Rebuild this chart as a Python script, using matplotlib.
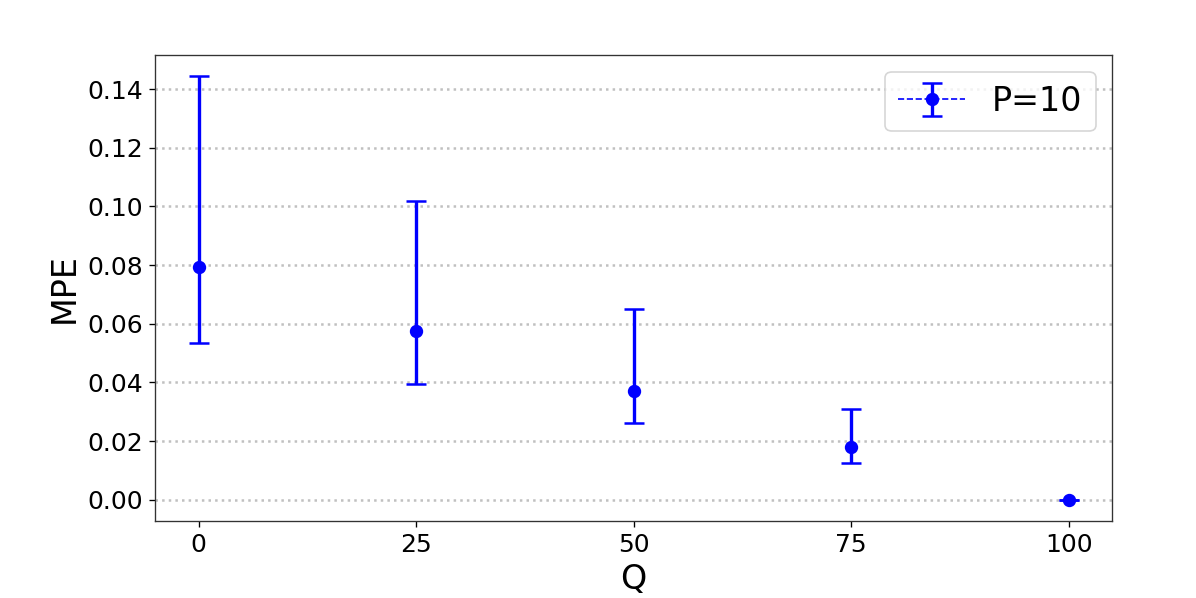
import numpy as np
import matplotlib
matplotlib.use("Agg")
import matplotlib.pyplot as plt

# values
q_values = [0, 25, 50, 75, 100]
mpe_mean = [0.0795, 0.0576, 0.0371, 0.0178, 0.0]
mpe_lower = [0.0535, 0.0395, 0.0261, 0.0124, 0.0]
mpe_upper = [0.1444, 0.1019, 0.0649, 0.0309, 0.0]
series_label = "P=10"


def main():
    fig = plt.figure(figsize=(1196 / 120, 598 / 120), dpi=120)
    ax = fig.add_subplot(111)
    fig.subplots_adjust(left=0.1296, right=0.930, bottom=0.129, top=0.908)

    mean = np.array(mpe_mean)
    err = np.vstack([mean - np.array(mpe_lower), np.array(mpe_upper) - mean])

    # each point drawn on its own so no dashed line joins them,
    # but the legend still shows the dashed style
    for i, q in enumerate(q_values):
        ax.errorbar([q], [mean[i]], yerr=err[:, i:i + 1], fmt='o--', color='blue',
                    linewidth=1, elinewidth=2, capsize=6, capthick=1.5, markersize=7,
                    label=series_label if i == 0 else None)

    ax.set_xticks(q_values)
    ax.set_yticks(np.arange(0, 0.15, 0.02))
    ax.yaxis.set_major_formatter(matplotlib.ticker.FormatStrFormatter('%.2f'))
    ax.tick_params(labelsize=15)
    ax.grid(axis='y', linestyle=':', color='silver', linewidth=1.5)
    ax.set_axisbelow(True)

    ax.set_xlabel('Q', fontsize=20)
    ax.set_ylabel('MPE', fontsize=20)
    ax.legend(fontsize=20, loc='upper right')

    for s in ax.spines.values():
        s.set_color('#333333')

    fig.savefig('out.png', dpi=120)


if __name__ == "__main__":
    main()
